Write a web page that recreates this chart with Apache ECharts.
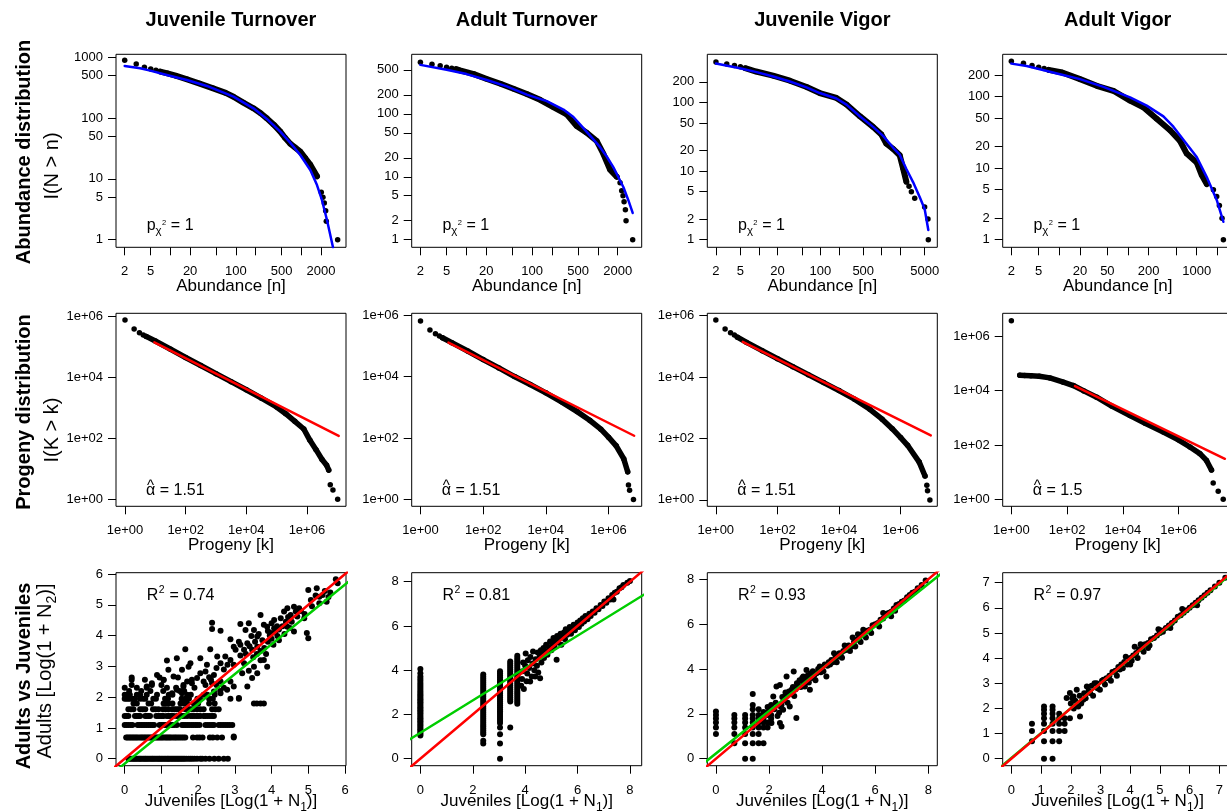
<!DOCTYPE html>
<html>
<head>
<meta charset="utf-8">
<title>Abundance, progeny and adults vs juveniles</title>
<script src="https://cdn.jsdelivr.net/npm/echarts@6/dist/echarts.min.js"></script>
<style>
  html, body { margin: 0; padding: 0; background: #ffffff; }
  #chart { width: 1227px; height: 811px; }
</style>
</head>
<body>
<div id="chart"></div>
<script>
// ======================= DATA =======================
const panelTitles = ['Juvenile Turnover', 'Adult Turnover', 'Juvenile Vigor', 'Adult Vigor'];
const rowTitles = ['Abundance distribution', 'Progeny distribution', 'Adults vs Juveniles'];
const pChiValues = ['1', '1', '1', '1'];
const alphaHatValues = ['1.51', '1.51', '1.51', '1.5'];
const rSquaredValues = ['0.74', '0.81', '0.93', '0.97'];

// ---- Row 1: abundance distribution I(N > n) (points) and fitted curve (blue)
const jtAbundN = [2,3,4,5,6,7,9,12,18,28,45,70,92,130,186,240,298,380,478,560,677,800,966,1150,1380,1740,2023,2146,2250,2360,2415,3600];
const jtAbundI = [894,778,685,643,612,582,546,500,435,370,309,260,225,180,145,120,99,78,60,48,38,33,28,22,17,11,6,5,4,3,2,1];
const jtAbundFitN = [2,3.44,4.9,8.8,17.8,36,92,186,298,478,677,966,1375,1740,2070,2473,3055];
const jtAbundFitI = [721,660,604,513,424,338,225,145,97,60,39.5,24.7,14,7.9,4.5,2.1,0.75];

const atAbundN = [2,3,4,5,6,7,8,13,20,33,52,83,132,210,336,476,676,960,1213,1530,1933,2173,2300,2411,2500,2618,2680,3380];
const atAbundI = [661,615,579,552,532,513,489,428,361,301,251,207,167,128,98,64,50,37,23,13,10,8,6,5,4,3,2,1];
const atAbundFitN = [2,5,10.1,20.4,41,83,167,299,424,535,760,1080,1362,1722,2052,2446,2911,3380];
const atAbundFitI = [600,501,428,344,273,202,159,117,89,68,45,29.5,21,14.1,9.8,6.8,4.2,2.66];

const jvAbundN = [2,3,4,5,6,9,17,32,60,98,183,267,440,723,988,1191,1530,1963,2224,2520,2785,3040,3445,5000,5665,5740];
const jvAbundI = [389,364,344,330,315,282,245,207,168,137,116,93,63,44,34,25,21,17,11,7,6,5,4,3,2,1];
const jvAbundFitN = [2,4.9,9.2,17.1,31.9,59.6,98,183,267,440,723,1052,1530,1963,2520,3236,4150,5000,5740];
const jvAbundFitI = [368,315,276,239,202,166,137,114,93,63,44,32.5,22,17.3,10.7,6.9,4.2,2.8,1.38];

const avAbundN = [2,3,4,5,6,7,11,20,35,61,107,167,261,409,572,715,1000,1183,1400,1750,1955,2138,2338,2445];
const avAbundI = [313,294,272,258,247,237,218,176,142,121,88,71,49,34,24,16,12,8,6,5,4,3,2,1];
const avAbundFitN = [2,3.34,5.2,10.2,20,43.8,107,187,327,457,639,1000,1400,1955,2445];
const avAbundFitI = [290,269,242,206,176,137,98,75,53,38,25,14.3,7.5,3.6,1.78];

// index range of the densely packed part of each abundance curve
const abundDense = [[5,25],[5,20],[4,19],[5,18]];

// axis ticks (row 1)
const abundXTicks = [[2,5,10,20,50,100,200,500,1000,2000],[2,5,10,20,50,100,200,500,1000,2000],[2,5,10,20,50,100,200,500,1000,2000,5000],[2,5,10,20,50,100,200,500,1000,2000]];
const abundXLabels = [[2,5,20,100,500,2000],[2,5,20,100,500,2000],[2,5,20,100,500,5000],[2,5,20,50,200,1000]];
const abundYTicks = [[1,5,10,50,100,500,1000],[1,2,5,10,20,50,100,200,500],[1,2,5,10,20,50,100,200],[1,2,5,10,20,50,100,200]];

// ---- Row 2: progeny distribution I(K > k) (points) and power-law fit (red)
const jtProgK = [1,2,3,4,5,10,32,100,316,1000,3160,10000,31600,100000,200000,400000,790000,1260000,2000000,3160000,4470000,5250000,5900000,7240000,10350000];
const jtProgI = [739000,375000,284000,238000,214000,151000,81300,43600,24000,12900,7080,3850,2040,1050,631,355,200,85,42,20,13,9,3,2,1];
const jtProgFitK = [9.3, 11200000];
const jtProgFitI = [137000, 119];

const atProgK = [1,2,3,4,5,10,32,100,316,1000,3160,10000,31600,100000,251000,568000,1000000,1760000,3080000,4090000,4340000,4710000,6270000];
const atProgI = [640000,327000,248000,209000,182000,126000,67600,35500,19100,10000,5500,2950,1510,724,380,195,107,56,21,8,3,2,1];
const atProgFitK = [7.8, 6600000];
const atProgFitI = [126000, 119];

const jvProgK = [1,2,3,4,5,10,32,100,316,1000,3160,10000,31600,100000,251000,532000,1000000,1680000,4010000,6170000,7080000,7460000,8910000];
const jvProgI = [724000,367000,278000,234000,200000,135000,72400,39800,21900,12000,6610,3630,1910,891,427,209,107,60,17,6,3,2,1];
const jvProgFitK = [7.5, 9500000];
const jvProgFitI = [141000, 126];

const avProgK = [1,2,3,5,10,24,73,167,398,1150,3980,18000,63100,282000,977000,2550000,5820000,10000000,15100000,17400000,26300000,39800000];
const avProgI = [3760000,36900,36300,35500,33900,29400,20400,15400,9770,5740,2690,1220,631,297,155,84,48,27,12,4,2,1];
const avProgFitK = [192, 45800000];
const avProgFitI = [14600, 31];

const progDense = [[4,21],[4,19],[4,19],[1,18]];
const progTicks = [1, 100, 10000, 1000000];

// ---- Row 3: adults vs juveniles, log(1 + N)
// Juvenile Turnover: rows of equal adult value [adult, [juvenile values]] + scattered points [juv, adult]
const jtRows = [
  [0, [0.10,0.13,0.17,0.21,0.25,0.28,0.32,0.36,0.40,0.43,0.47,0.51,0.55,0.58,0.62,0.66,0.70,0.74,0.77,0.81,0.85,0.89,0.93,0.96,1.00,1.04,1.08,1.12,1.16,1.19,1.23,1.27,1.31,1.35,1.39,1.43,1.47,1.51,1.55,1.59,1.63,1.68,1.74,1.79,1.84,1.90,1.97,2.06,2.11,2.20,2.31,2.44,2.56,2.70,2.81]],
  [0.693, [0.04,0.08,0.12,0.16,0.20,0.24,0.28,0.32,0.36,0.41,0.45,0.49,0.53,0.57,0.61,0.65,0.69,0.73,0.77,0.81,0.85,0.89,0.93,0.97,1.01,1.05,1.10,1.14,1.18,1.22,1.26,1.31,1.36,1.40,1.45,1.50,1.55,1.60,1.65,1.86,1.97,2.04,2.12,2.32,2.40,2.52,2.65,2.97]],
  [1.099, [0.00,0.05,0.10,0.16,0.21,0.35,0.40,0.45,0.50,0.55,0.60,0.65,0.70,0.75,0.80,0.95,1.00,1.05,1.10,1.15,1.20,1.25,1.30,1.35,1.42,1.56,1.61,1.66,1.71,1.76,1.82,1.87,1.93,1.98,2.04,2.20,2.26,2.32,2.38,2.43,2.56,2.62,2.68,2.74,2.80,2.86,2.93]],
  [1.386, [0.00,0.05,0.10,0.28,0.33,0.38,0.42,0.56,0.60,0.65,0.69,0.86,0.91,0.96,1.01,1.06,1.15,1.20,1.25,1.29,1.33,1.42,1.47,1.52,1.57,1.63,1.70,1.79,1.84,1.89,1.95,2.00,2.06,2.15,2.20,2.26,2.32,2.38,2.43]],
  [1.609, [0.10,0.17,0.24,0.42,0.49,0.56,0.77,0.84,0.92,1.04,1.11,1.19,1.29,1.35,1.41,1.47,1.51,1.65,1.71,1.77,1.83,1.88,1.97,2.06,2.15,2.38,2.47,2.56]],
  [1.792, [0.24,0.33,0.65,0.72,1.06,1.12,1.19,1.30,1.52,1.60,1.70,1.88,2.00,2.30,2.45,3.52,3.60,3.70,3.79]],
  [1.946, [0.00,0.05,0.10,0.15,0.22,0.28,0.42,0.50,0.56,0.78,0.85,1.10,1.18,1.55,1.65,1.75,1.98,2.05,2.30,2.40,2.88,3.11]],
  [2.079, [0.00,0.08,0.14,0.33,0.42,0.60,0.88,1.20,1.30,1.70,1.80,2.15,2.25,2.45]],
  [2.197, [0.12,0.45,0.70,1.05,1.50,1.62,2.60]],
  [2.303, [0.00,0.33,0.60,1.15,1.40,1.90,2.70]],
  [2.398, [0.19,0.74,1.00,1.60,2.20,2.50]],
  [2.565, [0.19,0.55,1.06,1.83,2.35]],
  [2.639, [0.19,0.95,1.45]]
];
const jtCloud = [[5.75,5.83],[5.00,5.48],[5.23,5.54],[5.30,5.26],[5.07,5.16],[5.39,5.32],[4.61,4.94],[4.43,4.89],[4.66,4.78],[4.75,4.89],[4.34,4.78],[4.52,4.67],[4.70,4.62],[4.89,4.56],[4.25,4.56],[4.39,4.45],[4.43,4.29],[4.61,4.13],[4.96,4.08],[5.00,3.91],[3.70,4.67],[4.07,4.51],[3.88,4.29],[4.07,4.24],[3.79,4.35],[3.98,4.08],[4.16,3.99],[3.61,3.97],[3.15,4.38],[3.38,4.40],[3.29,4.18],[3.52,4.18],[3.45,3.99],[2.38,4.42],[2.38,4.21],[2.61,4.16],[2.88,3.88],[3.11,3.80],[2.97,3.64],[3.15,3.70],[3.34,3.75],[3.02,3.54],[3.25,3.54],[3.47,3.54],[3.61,3.64],[1.65,3.56],[1.42,3.26],[1.15,3.19],[2.33,3.56],[2.06,3.26],[2.52,3.32],[2.74,3.32],[2.88,3.21],[2.24,3.05],[2.61,3.10],[2.97,3.05],[3.25,3.10],[3.52,2.99],[3.79,3.21],[3.88,2.99],[3.61,2.78],[3.38,2.86],[3.20,2.78],[3.47,2.62],[3.34,2.35],[1.79,3.10],[1.74,2.99],[1.56,2.89],[1.19,2.89],[1.33,2.67],[0.88,2.72],[1.06,2.56],[0.74,2.45],[0.60,2.35],[2.06,2.78],[2.20,2.83],[2.43,2.72],[1.97,2.62],[1.83,2.45],[1.70,2.51],[2.15,2.51],[2.38,2.45],[2.61,2.51],[2.88,2.51],[2.97,2.35],[2.79,2.24],[2.61,2.13],[2.43,2.18],[1.60,2.35],[1.42,2.24],[1.29,2.13],[1.56,2.13],[3.11,1.97],[2.97,0.72],[3.50,3.30],[3.60,3.40],[3.70,3.50],[3.80,3.60],[3.90,3.80],[4.00,3.90],[4.10,4.10],[4.20,4.20],[4.30,4.30],[3.75,3.85],[3.95,4.00],[4.15,4.30],[4.45,4.60],[4.55,4.45],[4.80,4.80],[5.50,5.10],[5.55,5.25],[5.30,5.05],[4.90,4.70],[5.10,4.95],[5.45,5.45],[5.20,5.30],[5.60,5.40],[5.80,5.70],[3.90,4.15],[4.00,4.40],[3.65,4.05],[3.55,3.80],[3.40,3.65],[3.30,3.40],[3.70,3.20],[3.85,3.40],[4.05,3.70],[4.20,3.85],[4.35,4.05],[4.50,4.25],[3.15,3.35],[2.80,3.05],[2.70,2.90],[2.50,2.95],[2.30,2.65]];

// Adult Turnover: columns of equal juvenile value [juv, [adult values]] + scattered points
const atCols = [
  [0, [1.05,1.12,1.19,1.26,1.33,1.40,1.48,1.55,1.62,1.69,1.76,1.83,1.90,1.97,2.05,2.12,2.19,2.26,2.33,2.40,2.48,2.55,2.62,2.69,2.76,2.83,2.90,2.98,3.06,3.15,3.24,3.33,3.42,3.52,3.61,3.71,3.86,4.05]],
  [2.40, [0.69,0.81,1.10,1.18,1.27,1.36,1.45,1.54,1.63,1.72,1.81,1.90,1.99,2.08,2.17,2.26,2.35,2.44,2.53,2.62,2.71,2.80,2.89,2.98,3.07,3.16,3.25,3.34,3.43,3.52,3.61,3.70,3.80]],
  [3.04, [0.00,0.69,1.10,1.41,1.61,1.70,1.79,1.88,1.97,2.06,2.15,2.24,2.33,2.42,2.51,2.60,2.69,2.78,2.87,2.96,3.05,3.14,3.23,3.32,3.41,3.50,3.59,3.68,3.77,3.86,3.95]],
  [3.43, [1.41,2.59,2.68,2.77,2.86,2.95,3.04,3.13,3.22,3.31,3.40,3.49,3.58,3.67,3.76,3.85,3.94,4.03,4.12,4.21,4.30,4.39]],
  [3.70, [2.48,2.57,2.66,2.75,2.84,2.93,3.02,3.11,3.20,3.29,3.38,3.47,3.56,3.65,3.74,3.83,3.92,4.01,4.10,4.19,4.28,4.37,4.46,4.55,4.65]]
];
const atCloud = [[3.85,3.30],[3.88,3.60],[3.90,3.95],[3.92,4.35],[3.95,3.15],[4.00,4.20],[4.02,4.75],[4.05,3.50],[4.08,3.85],[4.10,4.45],[4.15,4.10],[4.19,3.49],[4.20,4.60],[4.25,3.71],[4.28,4.30],[4.30,4.85],[4.35,4.00],[4.38,3.71],[4.40,4.50],[4.45,4.20],[4.48,4.80],[4.50,3.90],[4.55,4.60],[4.57,3.64],[4.60,4.90],[4.62,4.35],[4.65,4.70],[4.70,5.00],[4.72,4.55],[4.78,4.85],[4.80,5.15],[4.85,4.70],[4.90,5.05],[4.95,5.30],[5.00,4.90],[5.05,5.20],[5.08,5.45],[5.12,5.05],[5.15,5.35],[5.20,4.47],[5.22,5.55],[5.25,5.25],[5.30,5.45],[5.35,5.65],[5.38,5.15],[5.42,5.50],[5.48,5.70],[5.52,5.40],[5.55,5.85],[5.60,5.60],[5.65,5.75],[5.70,5.95],[5.75,5.65],[5.80,5.90],[5.85,6.05],[5.90,5.80],[5.95,6.00],[6.00,6.15],[6.05,5.95],[6.10,6.25],[6.15,6.10],[6.20,6.35],[6.25,6.20],[6.30,6.45],[6.38,6.30],[6.45,6.55],[6.50,6.45],[6.58,6.65],[6.65,6.60],[6.72,6.80],[6.80,6.75],[6.88,6.95],[6.95,6.90],[7.02,7.10],[7.10,7.05],[7.18,7.25],[7.25,7.20],[7.32,7.40],[7.37,7.20],[7.42,7.50],[7.50,7.55],[7.60,7.70],[7.68,7.75],[7.75,7.85],[7.90,7.95],[8.00,8.03]];

// Juvenile Vigor
const jvCols = [
  [0, [1.10,1.39,1.61,1.79,1.95,2.10]],
  [0.693, [0.69,1.10,1.39,1.61,1.79,1.95]],
  [1.099, [0.00,0.69,1.10,1.39,1.61,1.79,1.95]],
  [1.386, [0.00,0.69,1.10,1.39,1.61,1.79,1.95,2.20,2.40,2.89]],
  [1.609, [0.69,1.10,1.39,1.61,1.79,1.95,2.20]],
  [1.792, [0.69,1.39,1.61,1.79,1.95,2.08]],
  [1.946, [1.39,1.61,1.95,2.08,2.30]],
  [2.079, [1.61,1.79,1.95,2.20,2.40]]
];
const jvCloud = [[2.09,1.59],[2.41,1.59],[2.47,1.44],[2.16,2.77],[2.20,2.20],[2.25,2.50],[2.28,3.22],[2.32,1.90],[2.38,2.05],[2.41,3.29],[2.45,2.30],[2.47,2.40],[2.50,2.75],[2.53,2.18],[2.55,2.60],[2.60,2.77],[2.62,2.95],[2.66,3.66],[2.70,2.50],[2.75,3.00],[2.78,2.33],[2.80,2.88],[2.85,3.07],[2.90,3.20],[2.93,3.89],[2.95,2.80],[3.00,3.10],[3.03,1.81],[3.05,3.37],[3.10,3.28],[3.15,3.50],[3.20,3.20],[3.25,3.60],[3.29,3.66],[3.30,3.40],[3.35,3.22],[3.40,3.50],[3.41,3.96],[3.45,3.70],[3.50,3.40],[3.54,3.07],[3.55,3.80],[3.60,3.60],[3.65,3.90],[3.70,3.70],[3.75,3.50],[3.79,3.81],[3.85,4.00],[3.91,4.11],[3.95,3.85],[4.00,4.05],[4.05,3.90],[4.10,4.20],[4.16,3.66],[4.20,4.15],[4.25,4.30],[4.30,4.20],[4.35,4.40],[4.40,4.30],[4.45,4.70],[4.50,4.50],[4.55,4.30],[4.60,4.55],[4.65,4.70],[4.70,4.65],[4.75,4.50],[4.80,4.80],[4.85,5.05],[4.90,4.85],[5.00,5.05],[5.05,4.80],[5.10,5.00],[5.15,5.40],[5.20,5.20],[5.25,5.00],[5.30,5.30],[5.35,5.55],[5.40,5.35],[5.45,5.20],[5.50,5.55],[5.55,5.75],[5.60,5.50],[5.65,5.40],[5.70,5.70],[5.80,5.75],[5.85,5.60],[5.90,5.95],[6.00,6.00],[6.10,6.05],[6.15,5.90],[6.20,6.20],[6.30,6.25],[6.30,6.50],[6.40,6.45],[6.50,6.50],[6.60,6.55],[6.60,6.35],[6.70,6.70],[6.75,6.60],[6.80,6.85],[6.90,6.90],[7.00,7.00],[7.10,7.05],[7.20,7.20],[7.30,7.30],[7.40,7.40],[7.50,7.45],[7.60,7.60],[7.75,7.75],[7.90,7.95]];

// Adult Vigor
const avCols = [
  [0.693, [0.69,1.10,1.39]],
  [1.099, [0.00,0.69,1.10,1.39,1.61,1.79,1.95,2.08]],
  [1.386, [0.00,0.69,1.10,1.39,1.61,1.79,1.95,2.08]],
  [1.609, [0.69,1.10,1.39,1.61,1.79]],
  [1.792, [1.10,1.39,1.61]]
];
const avCloud = [[1.86,2.41],[1.97,2.61],[1.97,1.61],[2.00,2.20],[2.05,2.40],[2.09,2.47],[2.10,2.00],[2.15,2.30],[2.20,2.74],[2.25,2.08],[2.30,2.50],[2.31,1.68],[2.35,2.20],[2.42,2.34],[2.45,2.60],[2.50,2.40],[2.54,2.87],[2.60,2.70],[2.65,2.61],[2.70,2.90],[2.75,2.50],[2.80,3.00],[2.87,3.00],[2.90,2.80],[2.98,2.74],[3.05,3.10],[3.10,3.14],[3.15,2.95],[3.20,3.20],[3.30,3.30],[3.35,3.10],[3.40,3.45],[3.50,3.50],[3.55,3.30],[3.60,3.65],[3.65,3.55],[3.70,3.75],[3.75,3.60],[3.80,3.85],[3.85,4.05],[3.90,3.75],[4.00,4.00],[4.00,3.75],[4.05,3.90],[4.10,4.10],[4.15,4.45],[4.20,4.20],[4.25,4.00],[4.30,4.35],[4.35,4.55],[4.40,4.40],[4.45,4.25],[4.50,4.55],[4.60,4.60],[4.60,4.40],[4.65,4.50],[4.70,4.75],[4.80,4.80],[4.90,4.90],[4.95,5.15],[5.00,5.00],[5.05,5.10],[5.10,5.05],[5.20,5.20],[5.30,5.30],[5.35,5.20],[5.40,5.40],[5.50,5.50],[5.60,5.65],[5.70,5.70],[5.75,5.95],[5.80,5.80],[5.90,5.90],[6.00,6.00],[6.10,6.10],[6.20,6.20],[6.25,6.10],[6.30,6.30],[6.40,6.40],[6.50,6.50],[6.60,6.60],[6.70,6.70],[6.85,6.85],[7.00,7.00],[7.20,7.20]];

// 1:1 line (red) and regression line (green): [x0, x1] / [y0, y1]
const jtOneX = [-0.4, 6.2],  jtOneY = [-0.4, 6.2],  jtRegX = [-0.4, 6.2],  jtRegY = [-0.548, 5.854];
const atOneX = [-0.4, 8.6],  atOneY = [-0.4, 8.6],  atRegX = [-0.4, 8.6],  atRegY = [0.882, 7.461];
const jvOneX = [-0.4, 8.6],  jvOneY = [-0.4, 8.6],  jvRegX = [-0.4, 8.6],  jvRegY = [-0.144, 8.361];
const avOneX = [-0.4, 7.6],  avOneY = [-0.4, 7.6],  avRegX = [-0.4, 7.6],  avRegY = [-0.366, 7.554];

const scatterTicks = [[0,1,2,3,4,5,6],[0,2,4,6,8],[0,2,4,6,8],[0,1,2,3,4,5,6,7]];

// ======================= LAYOUT / STYLE =======================
const FONT = '"Liberation Sans", Arial, Helvetica, sans-serif';
const COL_LEFT = [116, 411.7, 707.3, 1002.7];
const ROW_TOP = [54.3, 313.3, 572.7];
const PW = 230, PH = 193;
const BLUE = '#0000FF', RED = '#FF0000', GREEN = '#00CD00', INK = '#000000';

// axis extents (row 1 & 2 in log10 units)
const abundRange = [
  {x: [0.168, 3.684], y: [-0.126, 3.05]},
  {x: [0.169, 3.666], y: [-0.121, 2.946]},
  {x: [0.160, 3.905], y: [-0.111, 2.701]},
  {x: [0.175, 3.524], y: [-0.107, 2.593]}
];
const progRange = [
  {x: [-0.297, 7.29], y: [-0.23, 6.087]},
  {x: [-0.281, 7.06], y: [-0.217, 6.055]},
  {x: [-0.277, 7.19], y: [-0.209, 6.078]},
  {x: [-0.311, 7.94], y: [-0.257, 6.845]}
];
const scatRange = [
  {x: [-0.237, 6.027], y: [-0.227, 6.043]},
  {x: [-0.331, 8.448], y: [-0.316, 8.406]},
  {x: [-0.326, 8.34], y: [-0.312, 8.294]},
  {x: [-0.292, 7.449], y: [-0.278, 7.397]}
];

// ======================= BUILD =======================
const LOG = Math.log10;
const measureCtx = document.createElement('canvas').getContext('2d');
function tw(text, size, weight) {
  measureCtx.font = (weight || 'normal') + ' ' + size + 'px ' + FONT;
  return measureCtx.measureText(text).width;
}

const grids = [], xAxes = [], yAxes = [], series = [], graphics = [];

function addGrid(r, c) {
  grids.push({
    left: COL_LEFT[c], top: ROW_TOP[r], width: PW, height: PH,
    show: true, borderColor: INK, borderWidth: 1, backgroundColor: 'transparent',
    containLabel: false, outerBoundsMode: 'none'
  });
  return grids.length - 1;
}

function valueAxis(gi, isX, range, tickVals, labelVals, fmt, extra) {
  const ax = {
    type: 'value', gridIndex: gi, min: range[0], max: range[1],
    position: isX ? 'bottom' : 'left', scale: true,
    axisLine: {show: false, onZero: false},
    axisTick: {show: true, inside: false, length: 8, lineStyle: {color: INK, width: 1}, customValues: tickVals},
    axisLabel: {show: true, inside: false, customValues: labelVals, formatter: fmt, color: INK,
      fontSize: 13, fontFamily: FONT, margin: isX ? 18 : 13, hideOverlap: false},
    splitLine: {show: false}, splitArea: {show: false},
    minorTick: {show: false}, minorSplitLine: {show: false}
  };
  return Object.assign(ax, extra || {});
}

function xName(name, gap, rich) {
  const o = {
    name: name, nameLocation: 'middle', nameGap: gap, nameMoveOverlap: false,
    nameTextStyle: {fontSize: 17, fontFamily: FONT, color: INK}
  };
  if (rich) o.nameTextStyle.rich = rich;
  return o;
}

const fmtPlain = v => String(Math.round(Math.pow(10, v)));
const fmtSci = v => '1e+' + String(Math.round(v)).padStart(2, '0');
const fmtInt = v => String(Math.round(v));

function dotSeries(gi, data, size) {
  return {type: 'scatter', xAxisIndex: gi, yAxisIndex: gi, data: data, symbol: 'circle',
    symbolSize: size, itemStyle: {color: INK, opacity: 1, borderWidth: 0}, silent: true, z: 2, clip: true,
    large: false, emphasis: {disabled: true}};
}
function lineSeries(gi, data, color, width, z) {
  return {type: 'line', xAxisIndex: gi, yAxisIndex: gi, data: data, showSymbol: false, symbol: 'none',
    smooth: false, clip: true, silent: true, z: z || 3, emphasis: {disabled: true},
    lineStyle: {color: color, width: width, opacity: 1, cap: 'round', join: 'round'}};
}

// ---- Row 1
const abundSets = [
  [jtAbundN, jtAbundI, jtAbundFitN, jtAbundFitI],
  [atAbundN, atAbundI, atAbundFitN, atAbundFitI],
  [jvAbundN, jvAbundI, jvAbundFitN, jvAbundFitI],
  [avAbundN, avAbundI, avAbundFitN, avAbundFitI]
];
abundSets.forEach(([N, I, FN, FI], c) => {
  const gi = addGrid(0, c);
  xAxes.push(valueAxis(gi, true, abundRange[c].x, abundXTicks[c].map(LOG), abundXLabels[c].map(LOG), fmtPlain, xName('Abundance [n]', 31)));
  yAxes.push(valueAxis(gi, false, abundRange[c].y, abundYTicks[c].map(LOG), abundYTicks[c].map(LOG), fmtPlain));
  const pts = N.map((n, i) => [LOG(n), LOG(I[i])]);
  series.push(dotSeries(gi, pts, 5.5));
  series.push(lineSeries(gi, pts.slice(abundDense[c][0], abundDense[c][1] + 1), INK, 6, 2));
  series.push(lineSeries(gi, FN.map((n, i) => [LOG(n), LOG(FI[i])]), BLUE, 2.5, 4));
});

// ---- Row 2
const progSets = [
  [jtProgK, jtProgI, jtProgFitK, jtProgFitI],
  [atProgK, atProgI, atProgFitK, atProgFitI],
  [jvProgK, jvProgI, jvProgFitK, jvProgFitI],
  [avProgK, avProgI, avProgFitK, avProgFitI]
];
progSets.forEach(([K, I, FK, FI], c) => {
  const gi = addGrid(1, c);
  const t = progTicks.map(LOG);
  xAxes.push(valueAxis(gi, true, progRange[c].x, t, t, fmtSci, xName('Progeny [k]', 31)));
  yAxes.push(valueAxis(gi, false, progRange[c].y, t, t, fmtSci));
  const pts = K.map((k, i) => [LOG(k), LOG(I[i])]);
  series.push(dotSeries(gi, pts, 5.5));
  series.push(lineSeries(gi, pts.slice(progDense[c][0], progDense[c][1] + 1), INK, 5.5, 2));
  series.push(lineSeries(gi, FK.map((k, i) => [LOG(k), LOG(FI[i])]), RED, 2.5, 4));
});

// ---- Row 3
function fromRows(rows) { const out = []; rows.forEach(([y, xs]) => xs.forEach(x => out.push([x, y]))); return out; }
function fromCols(cols) { const out = []; cols.forEach(([x, ys]) => ys.forEach(y => out.push([x, y]))); return out; }
const scatSets = [
  [fromRows(jtRows).concat(jtCloud), jtOneX, jtOneY, jtRegX, jtRegY],
  [fromCols(atCols).concat(atCloud), atOneX, atOneY, atRegX, atRegY],
  [fromCols(jvCols).concat(jvCloud), jvOneX, jvOneY, jvRegX, jvRegY],
  [fromCols(avCols).concat(avCloud), avOneX, avOneY, avRegX, avRegY]
];
const subRich = {
  n: {fontSize: 17, fontFamily: FONT, color: INK, verticalAlign: 'top'},
  s: {fontSize: 12, fontFamily: FONT, color: INK, verticalAlign: 'bottom', padding: [9, 0, 0, 0]}
};
scatSets.forEach(([pts, ox, oy, rx, ry], c) => {
  const gi = addGrid(2, c);
  xAxes.push(valueAxis(gi, true, scatRange[c].x, scatterTicks[c], scatterTicks[c], fmtInt,
    xName('{n|Juveniles [Log(1 + N}{s|1}{n|)]}', 27, subRich)));
  yAxes.push(valueAxis(gi, false, scatRange[c].y, scatterTicks[c], scatterTicks[c], fmtInt));
  series.push(dotSeries(gi, pts, 6));
  series.push(lineSeries(gi, rx.map((x, i) => [x, ry[i]]), GREEN, 2.5, 4));
  series.push(lineSeries(gi, ox.map((x, i) => [x, oy[i]]), RED, 2.5, 5));
});

// ---- Text annotations
function T(x, y, text, size, o) {
  o = o || {};
  const al = o.align || 'left';
  const st = {text: text, fontSize: size, fontFamily: FONT, fontWeight: o.bold ? 'bold' : 'normal', fill: INK,
    textAlign: al, align: al, textVerticalAlign: 'middle', verticalAlign: 'middle'};
  if (o.rich) st.rich = o.rich;
  return {type: 'text', x: x, y: y, rotation: o.rot || 0, silent: true, z: 100, style: st};
}
const AS = 16;
for (let c = 0; c < 4; c++) {
  // p_chi^2 = 1
  let x0 = COL_LEFT[c] + 30.7, y0 = ROW_TOP[0] + PH - 21.5;
  const wp = tw('p', AS), wchi = tw('χ', 11.5), w2 = tw('2', 7.5);
  graphics.push(T(x0, y0, 'p', AS));
  graphics.push(T(x0 + wp, y0 + 5, 'χ', 11.5));
  graphics.push(T(x0 + wp + wchi + 0.3, y0 - 2.5, '2', 7.5));
  graphics.push(T(x0 + wp + wchi + w2 + 0.6, y0, ' = ' + pChiValues[c], AS));
  // alpha hat
  x0 = COL_LEFT[c] + 30; y0 = ROW_TOP[1] + PH - 16;
  const wa = tw('α', AS);
  graphics.push(T(x0, y0, 'α', AS));
  graphics.push(T(x0 + wa / 2, y0 - 4, '^', 15, {align: 'center'}));
  graphics.push(T(x0 + wa, y0, ' = ' + alphaHatValues[c], AS));
  // R^2
  x0 = COL_LEFT[c] + 30.7; y0 = ROW_TOP[2] + 23;
  const wr = tw('R', AS), wsup = tw('2', 10.5);
  graphics.push(T(x0, y0, 'R', AS));
  graphics.push(T(x0 + wr + 0.5, y0 - 5.5, '2', 10.5));
  graphics.push(T(x0 + wr + wsup + 1, y0, ' = ' + rSquaredValues[c], AS));
}

// Row labels (rotated)
const ROT = Math.PI / 2;
graphics.push(T(24.5, 152, rowTitles[0], 20, {bold: true, align: 'center', rot: ROT}));
graphics.push(T(52, 166, 'I(N > n)', 20, {align: 'center', rot: ROT}));
graphics.push(T(24.5, 412, rowTitles[1], 20, {bold: true, align: 'center', rot: ROT}));
graphics.push(T(52, 430, 'I(K > k)', 20, {align: 'center', rot: ROT}));
graphics.push(T(24.5, 676, rowTitles[2], 20, {bold: true, align: 'center', rot: ROT}));
graphics.push(T(47, 671, '{n|Adults [Log(1 + N}{s|2}{n|)]}', 20, {align: 'center', rot: ROT, rich: {
  n: {fontSize: 20, fontFamily: FONT, fill: INK, color: INK, verticalAlign: 'top'},
  s: {fontSize: 14, fontFamily: FONT, fill: INK, color: INK, verticalAlign: 'bottom', padding: [10, 0, 0, 0]}
}}));

const option = {
  animation: false,
  backgroundColor: '#ffffff',
  textStyle: {fontFamily: FONT},
  title: panelTitles.map((t, c) => ({
    text: t, left: COL_LEFT[c] + PW / 2, top: 10, textAlign: 'center', padding: 0,
    textStyle: {fontSize: 20, fontWeight: 'bold', fontFamily: FONT, color: INK}
  })),
  grid: grids,
  xAxis: xAxes,
  yAxis: yAxes,
  series: series,
  graphic: {elements: graphics}
};

const chart = echarts.init(document.getElementById('chart'), null, {renderer: 'canvas', width: 1227, height: 811});
chart.setOption(option);
</script>
</body>
</html>
